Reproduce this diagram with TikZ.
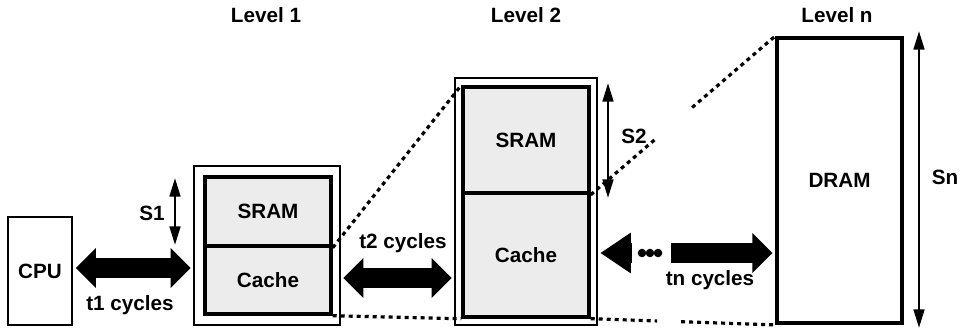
\documentclass[tikz,border=0pt]{standalone}
\usepackage{fontspec}
\setmainfont{Liberation Sans}
\usetikzlibrary{arrows.meta,calc}

\begin{document}
\begin{tikzpicture}[
x=0.75pt, y=-0.75pt,
every node/.style={
font=\bfseries\fontsize{15.5}{18}\selectfont
},
box/.style 2 args={inner sep=0pt, minimum width=#1*0.75pt, minimum height=#2*0.75pt},
outerbox/.style={draw, line width=0.9pt},
cellbox/.style={draw, line width=2.6pt, fill=gray!15},
sizearrow/.style={line width=2pt, {Triangle[length=14pt,width=8pt]}-{Triangle[length=14pt,width=8pt]}},
fatarrow/.style={line width=15pt, shorten <=2pt, shorten >=2pt,
{Triangle[length=15pt,width=29pt]}-{Triangle[length=15pt,width=29pt]}},
zoomline/.style={line width=2.4pt, dash pattern=on 3pt off 3pt}
]
\useasboundingbox (0,0) rectangle (964,331);

\node (lv1) at (266,15) {Level 1};
\node (lv2) at (526,15) {Level 2};
\node (lvn) at (837,15) {Level n};

\node[box={64}{108}, draw, line width=1.8pt] (cpu) at (40,271) {CPU};

% level 1
\node[box={146}{159}, outerbox] (l1) at (267,245.5) {};
\node[box={126}{69}, cellbox] (sram1) at (268,211.5) {SRAM};
\node[box={126}{68}, cellbox] (cache1) at (268,280) {Cache};

% level 2
\node[box={142}{247}, outerbox] (l2) at (526,201.5) {};
\node[box={126}{106}, cellbox] (sram2) at (526,140) {SRAM};
\node[box={126}{124}, cellbox] (cache2) at (526,255) {Cache};

% level n
\node[box={125}{285}, draw, line width=2.8pt] (dram) at (839.5,180.5) {DRAM};

% zoom lines
\draw[zoomline] (sram1.south east) -- (sram2.north west);
\draw[zoomline] (cache1.south east) -- (cache2.south west);
\draw[zoomline] (sram2.south east) -- ($(sram2.south east)!0.36!(dram.north west)$);
\draw[zoomline] ($(sram2.south east)!0.55!(dram.north west)$) -- (dram.north west);
\draw[zoomline] (cache2.south east) -- ($(cache2.south east)!0.36!(dram.south west)$);
\draw[zoomline] ($(cache2.south east)!0.49!(dram.south west)$) -- (dram.south west);

% transfers
\draw[fatarrow] (cpu.east |- 0,268) -- (l1.west |- 0,268);
\node (t1) at (130,305) {t1 cycles};
\draw[fatarrow] (l1.east |- 0,278) -- (l2.west |- 0,278);
\node (t2) at (403,243) {t2 cycles};
\coordinate (gapL) at (632,253);
\coordinate (gapR) at (671,253);
\draw[line width=15pt, shorten <=2pt, {Triangle[length=23pt,width=29pt]}-] (l2.east |- gapL) -- (gapL);
\draw[line width=15pt, shorten >=2pt, -{Triangle[length=15pt,width=29pt]}] (gapR) -- (dram.west |- gapR);
\foreach \dx in {642,650,658}
  \fill (\dx,253) circle (3.2pt);
\node (tn) at (710,280) {tn cycles};

% sizes
\coordinate (s1a) at (175,178);
\coordinate (s1b) at (175,245);
\draw[sizearrow] (s1a) -- (s1b);
\node (s1) at (152,213) {S1};
\coordinate (s2a) at (608,83);
\coordinate (s2b) at (608,198);
\draw[sizearrow] (s2a) -- (s2b);
\node (s2) at (634,136) {S2};
\coordinate (sna) at (919,31);
\coordinate (snb) at (919,328);
\draw[sizearrow] (sna) -- (snb);
\node (sn) at (945,177) {Sn};

\end{tikzpicture}
\end{document}
